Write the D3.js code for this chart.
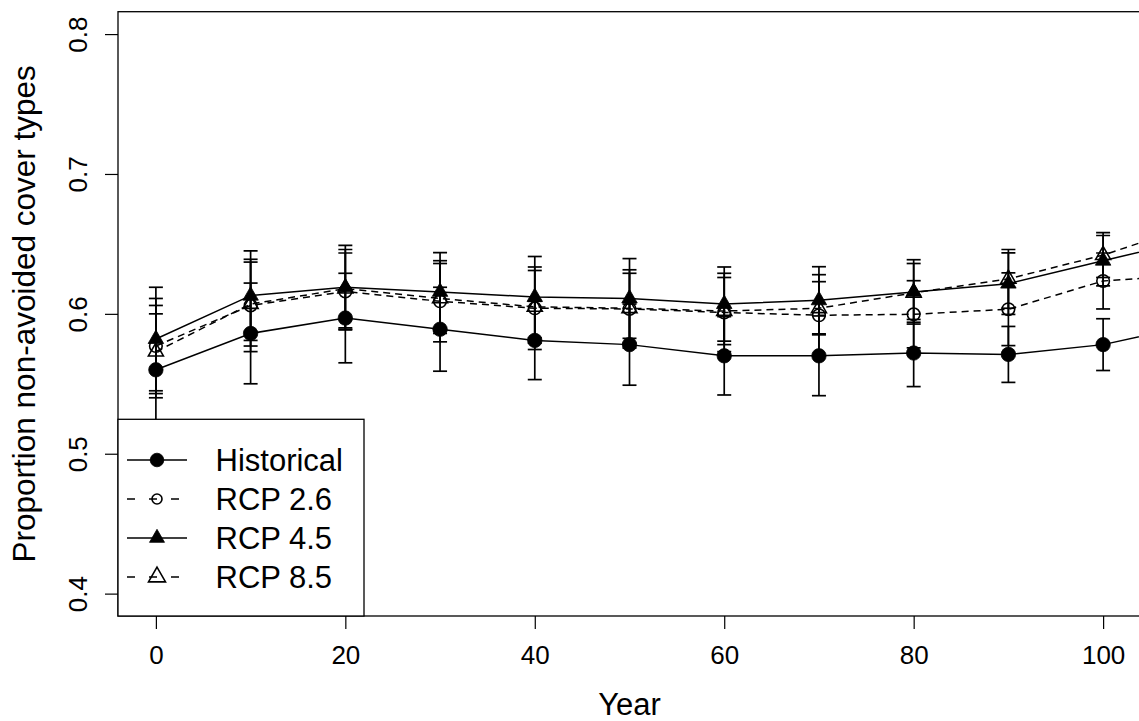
<!DOCTYPE html>
<html>
<head>
<meta charset="utf-8">
<script src="https://cdn.jsdelivr.net/npm/d3@7"></script>
<style>
  html, body { margin: 0; padding: 0; background: #fff; }
  svg { display: block; }
  text { font-family: "Liberation Sans", Arial, sans-serif; fill: #000; }
</style>
</head>
<body>
<svg id="chart" width="1139" height="721"></svg>
<script>
// ---- data ----
const years = [0, 10, 20, 30, 40, 50, 60, 70, 80, 90, 100, 110];

const histVals = [0.560, 0.586, 0.597, 0.589, 0.581, 0.578, 0.570, 0.570, 0.572, 0.571, 0.578, 0.593];
const histErr  = [0.040, 0.036, 0.032, 0.030, 0.028, 0.029, 0.028, 0.0285, 0.024, 0.020, 0.0185, 0.018];

const rcp26Vals = [0.577, 0.606, 0.616, 0.609, 0.604, 0.6035, 0.601, 0.599, 0.5997, 0.6033, 0.6235, 0.628];
const rcp26Err  = [0.034, 0.033, 0.0275, 0.029, 0.0295, 0.028, 0.028, 0.029, 0.024, 0.026, 0.020, 0.020];

const rcp45Vals = [0.582, 0.613, 0.619, 0.6157, 0.612, 0.611, 0.607, 0.6097, 0.6157, 0.6216, 0.638, 0.654];
const rcp45Err  = [0.037, 0.032, 0.030, 0.028, 0.029, 0.0285, 0.0265, 0.024, 0.023, 0.022, 0.018, 0.018];

const rcp85Vals = [0.573, 0.607, 0.618, 0.611, 0.605, 0.604, 0.602, 0.604, 0.615, 0.625, 0.642, 0.6645];
const rcp85Err  = [0.033, 0.030, 0.028, 0.025, 0.026, 0.025, 0.024, 0.019, 0.021, 0.021, 0.016, 0.016];

const seriesNames = ["Historical", "RCP 2.6", "RCP 4.5", "RCP 8.5"];
const xTicks = [0, 20, 40, 60, 80, 100];
const yTicks = [0.4, 0.5, 0.6, 0.7, 0.8];
const xTitle = "Year";
const yTitle = "Proportion non-avoided cover types";

// ---- styling / layout ----
const styles = [
  { vals: histVals,  err: histErr,  dash: null,  shape: "circle",   filled: true  },
  { vals: rcp26Vals, err: rcp26Err, dash: "7,5", shape: "circle",   filled: false },
  { vals: rcp45Vals, err: rcp45Err, dash: null,  shape: "triangle", filled: true  },
  { vals: rcp85Vals, err: rcp85Err, dash: "7,5", shape: "triangle", filled: false }
];

const plot = { left: 118, right: 1141, top: 11.7, bottom: 616 };
const svg = d3.select("#chart");

const x = d3.scaleLinear().domain([-4, 104]).range([plot.left, plot.right]);
const y = d3.scaleLinear().domain([0.384, 0.816]).range([plot.bottom, plot.top]);

svg.append("defs").append("clipPath").attr("id", "clip")
  .append("rect")
  .attr("x", plot.left).attr("y", plot.top)
  .attr("width", plot.right - plot.left).attr("height", plot.bottom - plot.top);

const gData = svg.append("g").attr("clip-path", "url(#clip)");

function symbolPath(shape, r) {
  if (shape === "circle") return d3.symbol().type(d3.symbolCircle).size(Math.PI * r * r)();
  const s = r; // triangle side length
  return d3.symbol().type(d3.symbolTriangle).size(Math.sqrt(3) / 4 * s * s)();
}

const line = d3.line().x((d, i) => x(years[i])).y(d => y(d));

styles.forEach(st => {
  const eb = gData.append("g");
  st.vals.forEach((v, i) => {
    const cx = x(years[i]);
    const lo = y(v - st.err[i]), hi = y(v + st.err[i]);
    eb.append("line").attr("x1", cx).attr("x2", cx).attr("y1", lo).attr("y2", hi)
      .attr("stroke", "#000").attr("stroke-width", 1.7);
    [lo, hi].forEach(yy => {
      eb.append("line").attr("x1", cx - 7).attr("x2", cx + 7).attr("y1", yy).attr("y2", yy)
        .attr("stroke", "#000").attr("stroke-width", 1.7);
    });
  });
  gData.append("path").datum(st.vals).attr("d", line)
    .attr("fill", "none").attr("stroke", "#000").attr("stroke-width", 1.5)
    .attr("stroke-dasharray", st.dash);
});

styles.forEach(st => {
  const r = st.shape === "circle" ? (st.filled ? 7.2 : 6.3) : (st.filled ? 15.5 : 15);
  gData.selectAll(null).data(st.vals).enter().append("path")
    .attr("transform", (d, i) => `translate(${x(years[i])},${y(d)})`)
    .attr("d", symbolPath(st.shape, r))
    .attr("fill", st.filled ? "#000" : "none")
    .attr("stroke", "#000").attr("stroke-width", st.filled ? 0.8 : 1.6);
});

// ---- box ----
svg.append("rect")
  .attr("x", plot.left).attr("y", plot.top)
  .attr("width", plot.right - plot.left).attr("height", plot.bottom - plot.top)
  .attr("fill", "none").attr("stroke", "#000").attr("stroke-width", 1.3);

// ---- axes ----
const xAxis = d3.axisBottom(x).tickValues(xTicks).tickSize(13).tickPadding(0).tickFormat(d3.format("d"));
const gx = svg.append("g").attr("transform", `translate(0,${plot.bottom})`).call(xAxis);
gx.select(".domain").remove();
gx.selectAll(".tick line").attr("stroke", "#000").attr("stroke-width", 1.2);
gx.selectAll(".tick text").attr("y", 47.5).attr("dy", null)
  .style("font-size", "26px").style("font-family", '"Liberation Sans", Arial, sans-serif').attr("fill", "#000");

const yAxis = d3.axisLeft(y).tickValues(yTicks).tickSize(13).tickFormat(d3.format(".1f"));
const gy = svg.append("g").attr("transform", `translate(${plot.left},0)`).call(yAxis);
gy.select(".domain").remove();
gy.selectAll(".tick line").attr("stroke", "#000").attr("stroke-width", 1.2);
gy.selectAll(".tick text")
  .attr("x", null).attr("dy", null)
  .attr("text-anchor", "middle")
  .attr("transform", "translate(-31,0) rotate(-90)")
  .style("font-size", "26px").style("font-family", '"Liberation Sans", Arial, sans-serif').attr("fill", "#000");

// ---- titles ----
svg.append("text").attr("x", (plot.left + plot.right) / 2).attr("y", 715)
  .attr("text-anchor", "middle").style("font-size", "31px").text(xTitle);
svg.append("text")
  .attr("transform", `translate(35,${(plot.top + plot.bottom) / 2}) rotate(-90)`)
  .attr("text-anchor", "middle").style("font-size", "31.5px").text(yTitle);

// ---- legend ----
const leg = svg.append("g");
leg.append("rect").attr("x", plot.left).attr("y", 419.3)
  .attr("width", 364 - plot.left).attr("height", plot.bottom - 419.3)
  .attr("fill", "#fff").attr("stroke", "#000").attr("stroke-width", 1.3);

seriesNames.forEach((name, i) => {
  const st = styles[i];
  const ry = 460 + i * 39;
  leg.append("line").attr("x1", 127).attr("x2", 187).attr("y1", ry).attr("y2", ry)
    .attr("stroke", "#000").attr("stroke-width", 1.5)
    .attr("stroke-dasharray", st.dash ? "8,14" : null);
  let r;
  if (st.shape === "circle") r = st.filled ? 6.8 : 5;
  else r = st.filled ? 15 : 17;
  leg.append("path").attr("transform", `translate(157,${ry})`)
    .attr("d", symbolPath(st.shape, r))
    .attr("fill", st.filled ? "#000" : "none")
    .attr("stroke", "#000").attr("stroke-width", st.filled ? 0.8 : 1.6);
  leg.append("text").attr("x", 215.5).attr("y", ry + 11)
    .style("font-size", "31px").text(name);
});
</script>
</body>
</html>
